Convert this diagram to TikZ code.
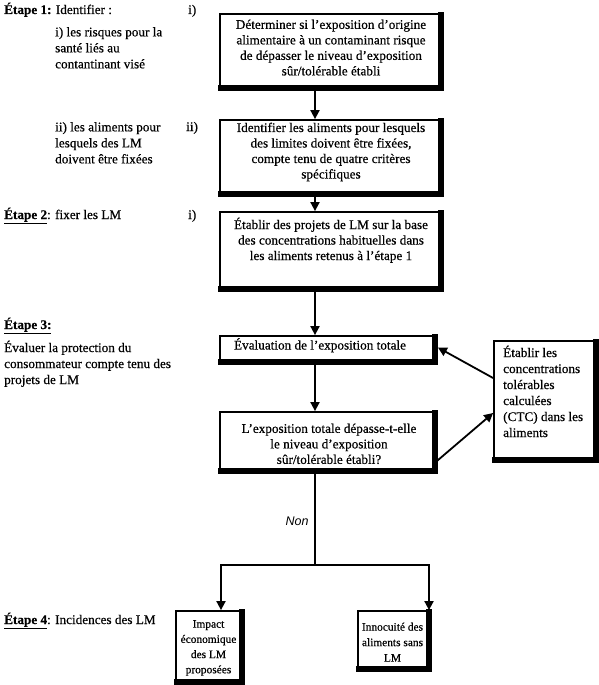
\documentclass[tikz,border=0pt]{standalone}
\usepackage{fontspec}
\setmainfont{Liberation Serif}[FakeBold=0.5]
\newfontfamily\arialfont{Liberation Sans}
\usetikzlibrary{arrows.meta}
\tikzset{
  frame/.style={draw, line width=1.8pt, inner sep=0pt, fill=white},
  btext/.style={inner sep=0pt, align=center, anchor=north, font=\fontsize{13.2}{15.5}\selectfont},
  stext/.style={inner sep=0pt, align=center, anchor=north, font=\fontsize{11.4}{15.5}\selectfont},
  ltext/.style={inner sep=0pt, align=left, anchor=north west, font=\fontsize{13.2}{16}\selectfont},
  lab/.style={inner sep=0pt, anchor=base west, font=\fontsize{13.2}{16}\selectfont},
  arr/.style={line width=1.8pt, line join=miter, -{Triangle[length=9pt,width=9pt]}},
  link/.style={line width=1.8pt},
  heavybar/.style={fill=black},
}
\newcommand\heavy[1]{%
  \fill[heavybar] ([xshift=-4.5pt,yshift=0.9pt]#1.north east) rectangle ([xshift=0.9pt,yshift=-0.9pt]#1.south east);
  \fill[heavybar] ([xshift=-0.9pt,yshift=4.5pt]#1.south west) rectangle ([xshift=0.9pt,yshift=-0.9pt]#1.south east);}
\begin{document}
\begin{tikzpicture}[x=1pt,y=-1pt]
\useasboundingbox (0,0) rectangle (599,685);
% boxes
\node[frame, minimum width=222pt, minimum height=75pt] (b1) at (331,51.5) {};
\node[frame, minimum width=222pt, minimum height=75pt] (b2) at (331,157.5) {};
\node[frame, minimum width=222pt, minimum height=78pt] (b3) at (331,251) {};
\node[frame, minimum width=216pt, minimum height=27pt] (b4) at (328,349.5) {};
\node[frame, minimum width=216pt, minimum height=60pt] (b5) at (328,442) {};
\node[frame, minimum width=103pt, minimum height=120pt] (b6) at (545.5,401) {};
\node[frame, minimum width=67pt, minimum height=72pt] (b7) at (209.5,647) {};
\node[frame, minimum width=72pt, minimum height=59pt] (b8) at (394,640.5) {};
\heavy{b1}\heavy{b2}\heavy{b3}\heavy{b4}\heavy{b5}\heavy{b6}\heavy{b7}\heavy{b8}
% box texts
\node[btext] (t1) at (331,19.5) {Déterminer si l'exposition d'origine\\alimentaire à un contaminant risque\\de dépasser le niveau d'exposition\\sûr/tolérable établi};
\node[btext] (t2) at (331,122.5) {Identifier les aliments pour lesquels\\des limites doivent être fixées,\\compte tenu de quatre critères\\spécifiques};
\node[btext] (t3) at (331,217.5) {Établir des projets de LM sur la base\\des concentrations habituelles dans\\les aliments retenus à l'étape 1};
\node[btext] (t4) at (320,338) {Évaluation de l'exposition totale};
\node[btext] (t5) at (329,423.5) {L’exposition totale dépasse-t-elle\\le niveau d’exposition\\sûr/tolérable établi?};
\node[ltext] (t6) at (503,345.5) {Établir les\\concentrations\\tolérables\\calculées\\(CTC) dans les\\aliments};
\node[stext, font=\fontsize{11.4}{15.2}\selectfont] (t7) at (208.5,620) {Impact\\économique\\des LM\\proposées};
\node[stext] (t8) at (392.5,622.5) {Innocuité des\\aliments sans\\LM};
% left labels
\node[lab] (e1) at (4,14) {\textbf{Étape 1:} Identifier :};
\node[lab] (r1) at (188,14) {i)};
\node[ltext] (l1) at (55,27) {i) les risques pour la\\santé liés au\\contantinant visé};
\node[ltext] (l2) at (55,122) {ii) les aliments pour\\lesquels des LM\\doivent être fixées};
\node[lab] (r2) at (186,131) {ii)};
\node[lab] (e2) at (4,219) {\underline{\textbf{Étape 2}}: fixer les LM};
\node[lab] (r3) at (188,219) {i)};
\node[lab] (e3) at (4,329) {\underline{\textbf{Étape 3:}}};
\node[ltext] (l3) at (4,340.5) {Évaluer la protection du\\consommateur compte tenu des\\projets de LM};
\node[lab] (e4) at (4,624) {\underline{\textbf{Étape 4}}: Incidences des LM};
% connectors
\coordinate (ax) at (315,0);
\coordinate (lx) at (221,0);
\coordinate (rx) at (429,0);
\coordinate (sp) at (315,565);
\draw[arr] (b1.south -| ax) -- (b2.north -| ax);
\draw[arr] (b2.south -| ax) -- (b3.north -| ax);
\draw[arr] (b3.south -| ax) -- (b4.north -| ax);
\draw[arr] (b4.south -| ax) -- (b5.north -| ax);
\draw[arr] ([yshift=23pt]b6.west) -- ([xshift=1pt,yshift=2pt]b4.east);
\draw[arr] ([yshift=-19pt]b5.east) -- ([yshift=-12pt]b6.west);
\draw[link] (b5.south -| ax) -- (sp);
\draw[arr] (sp) -| (b7.north -| lx);
\draw[arr] (sp) -| (b8.north -| rx);
\node[inner sep=0pt, font=\arialfont\itshape\fontsize{12.5}{14}\selectfont] (non) at (297,521) {Non};
\end{tikzpicture}
\end{document}
